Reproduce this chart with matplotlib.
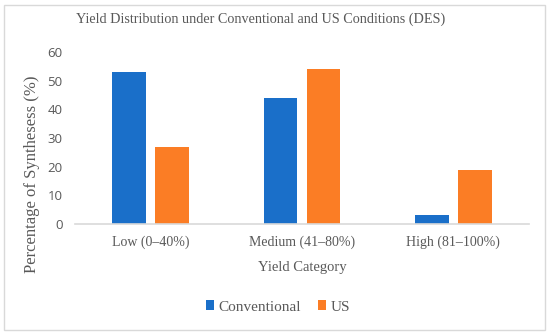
import matplotlib.pyplot as plt
from matplotlib.patches import Rectangle
import numpy as np

categories = ['Low (0–40%)', 'Medium (41–80%)', 'High (81–100%)']
conventional = [53, 44, 3]
us = [27, 54, 19]

plt.rcParams['font.family'] = ['Liberation Serif', 'DejaVu Serif']
sans = ['Open Sans', 'DejaVu Sans']
gray = '#595959'

fig = plt.figure(figsize=(5.5, 3.36), dpi=100)
ax = fig.add_axes([75 / 550, 1 - 224 / 336, 454 / 550, (224 - 52) / 336])

x = np.arange(len(categories))
w = 0.224
off = 0.142
ax.bar(x - off, conventional, w, color='#1a6fc9', label='Conventional')
ax.bar(x + off, us, w, color='#fb7d25', label='US')

ax.set_xlim(-0.5, 2.5)
ax.set_ylim(0, 60)
ax.set_yticks(range(0, 61, 10))
ax.set_xticks(x)
ax.set_xticklabels(categories, fontsize=10, color=gray)
for lbl in ax.get_yticklabels():
    lbl.set_fontfamily(sans)
    lbl.set_fontsize(9.5)
    lbl.set_color(gray)
ax.tick_params(length=0)
ax.tick_params(axis='x', pad=8)
ax.tick_params(axis='y', pad=9)

for s in ['top', 'right', 'left']:
    ax.spines[s].set_visible(False)
ax.spines['bottom'].set_color('#d9d9d9')
ax.spines['bottom'].set_linewidth(1.2)

ax.set_xlabel('Yield Category', fontsize=10.5, color=gray, labelpad=9)
fig.text(32 / 550, 1 - 174 / 336, 'Percentage of Synthesess (%)', rotation=90,
         ha='center', va='center', fontsize=12, color=gray)
fig.text(261 / 550, 1 - 19 / 336,
         'Yield Distribution under Conventional and US Conditions (DES)',
         ha='center', va='center', fontsize=10.2, color=gray)

leg = ax.legend(loc='center', bbox_to_anchor=(278 / 550, 1 - 307 / 336),
                bbox_transform=fig.transFigure, ncol=2, frameon=False,
                fontsize=11, labelcolor=gray,
                handlelength=0.55, handleheight=0.55, handletextpad=0.3,
                columnspacing=1.1)

fig.patches.append(Rectangle((4 / 550, 6 / 336), 541 / 550, 325 / 336,
                             transform=fig.transFigure, fill=False,
                             edgecolor='#d9d9d9', linewidth=1))

fig.savefig('out.png', dpi=100)
